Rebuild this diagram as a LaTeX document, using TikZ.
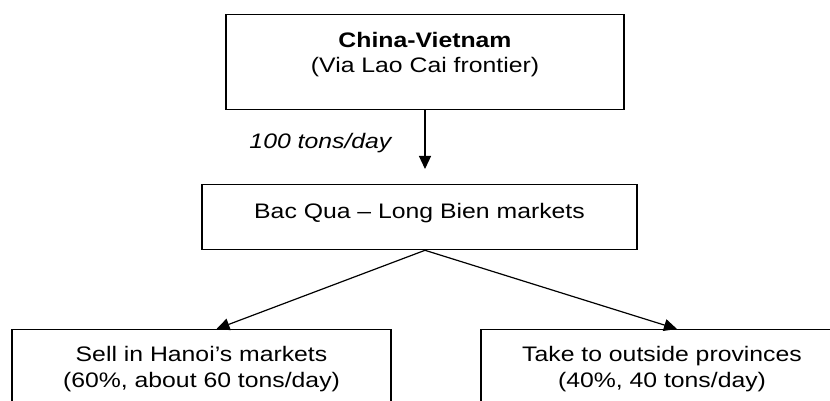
\documentclass[tikz,border=0pt]{standalone}
\usepackage{fontspec}
\setmainfont{Liberation Sans}[FakeStretch=1.18]
\usetikzlibrary{arrows.meta}

\begin{document}
\begin{tikzpicture}[x=1pt, y=-1pt, >={Triangle[length=13pt, width=12pt]},
  font=\fontsize{21}{24.4}\selectfont,
  box/.style={draw, line width=1.3pt, inner sep=0pt, align=center, anchor=north},
  flow/.style={->, line width=1.2pt}]
\useasboundingbox (0,0) rectangle (830,401);
\clip (0,0) rectangle (830,401);
\node[box, minimum width=398pt, text height=57.7pt, text depth=37.3pt] (china) at (425,14) {\textbf{China-Vietnam}\\(Via Lao Cai frontier)};
\node[box, minimum width=435pt, text height=34pt, text depth=31pt] (bacqua) at (419.5,184) {Bac Qua -- Long Bien markets};
\node[box, minimum width=379pt, text height=57.7pt, text depth=55pt, font=\fontsize{21}{26}\selectfont] (hanoi) at (201.5,329) {Sell in Hanoi's markets\\(60\%, about 60 tons/day)};
\node[box, minimum width=362pt, text height=57.7pt, text depth=55pt, font=\fontsize{21}{26}\selectfont] (provinces) at (662,329) {Take to outside provinces\\(40\%, 40 tons/day)};
\draw[flow, shorten >=15pt] (china) -- node[pos=0.45, left, xshift=-33pt, inner sep=0pt, font=\fontsize{21}{24.4}\selectfont\itshape] {100 tons/day} (china.south |- bacqua.north);
\draw[flow] (china.south |- bacqua.south) -- ([xshift=15pt]hanoi.north);
\draw[flow] (china.south |- bacqua.south) -- ([xshift=15pt]provinces.north);
\end{tikzpicture}
\end{document}
